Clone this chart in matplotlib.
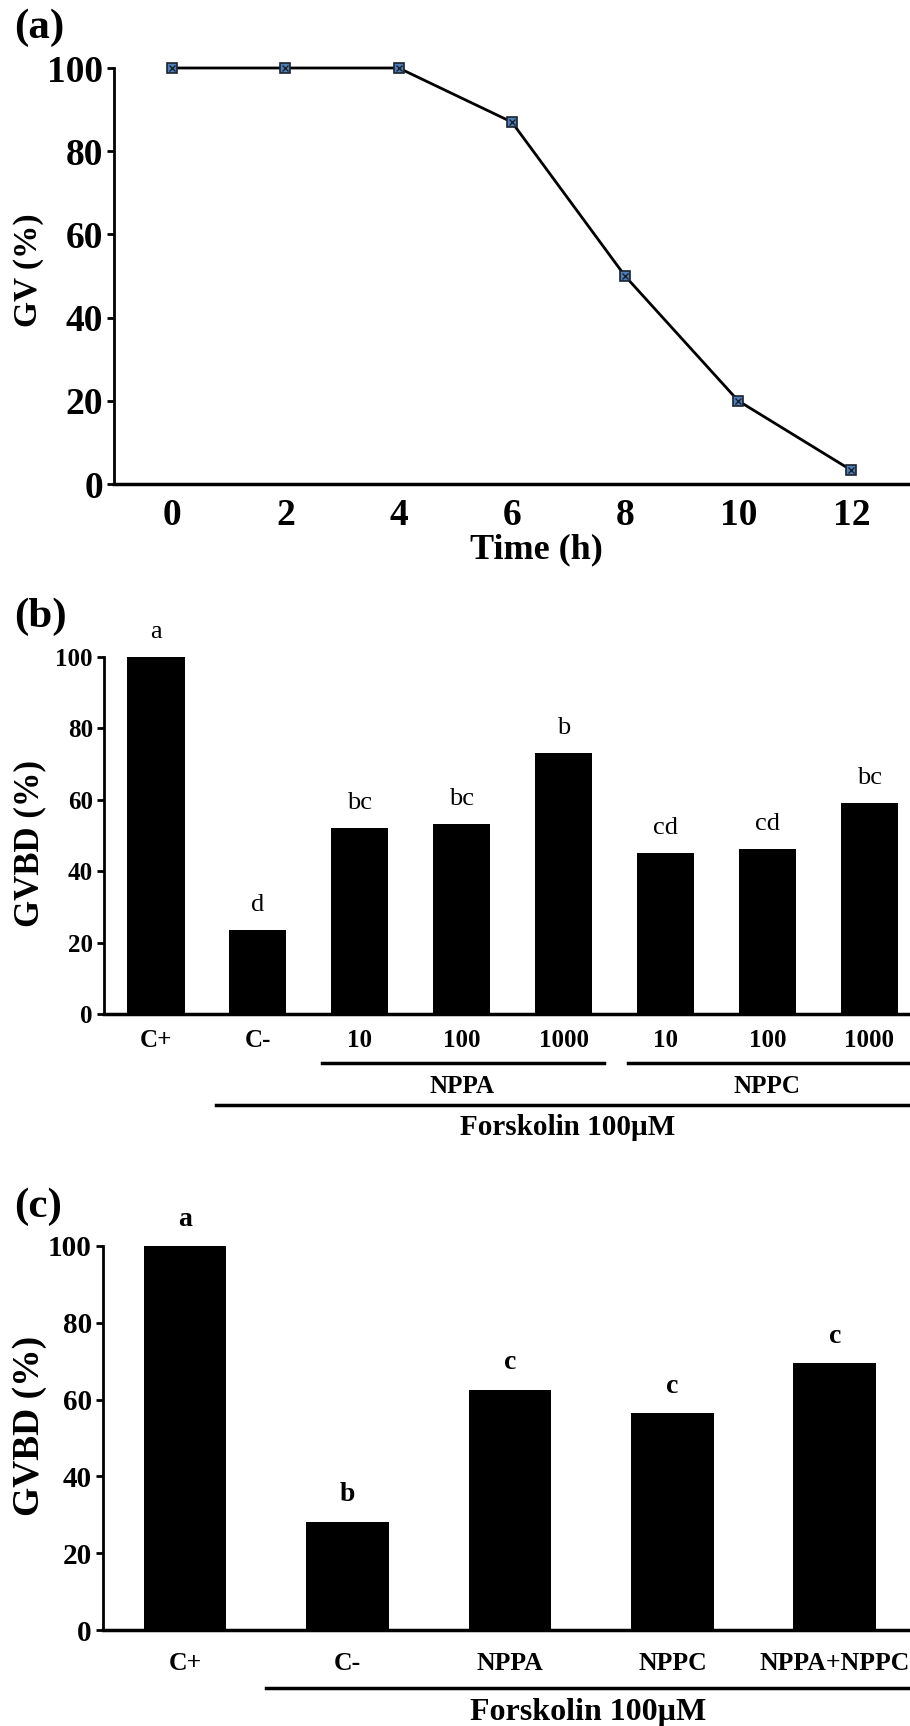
import matplotlib
matplotlib.use('Agg')
import matplotlib.pyplot as plt
import matplotlib.transforms as mtransforms

plt.rcParams['font.family'] = ['Liberation Serif', 'DejaVu Serif']
plt.rcParams['font.weight'] = 'bold'

# (a) GV over time
time_h = [0, 2, 4, 6, 8, 10, 12]
gv_pct = [100, 100, 100, 87, 50, 20, 3.3]

# (b) GVBD with NPPA / NPPC doses under forskolin
b_labels = ['C+', 'C-', '10', '100', '1000', '10', '100', '1000']
b_gvbd = [100, 23.6, 52.1, 53.3, 73.2, 45.0, 46.1, 59.1]
b_letters = ['a', 'd', 'bc', 'bc', 'b', 'cd', 'cd', 'bc']

# (c) GVBD with NPPA, NPPC and both
c_labels = ['C+', 'C-', 'NPPA', 'NPPC', 'NPPA+NPPC']
c_gvbd = [100, 28.2, 62.6, 56.4, 69.5]
c_letters = ['a', 'b', 'c', 'c', 'c']

W, H = 910, 1726
fig = plt.figure(figsize=(W / 100, H / 100), dpi=100)


def box(left, top, right, bottom):
    return [left / W, 1 - bottom / H, (right - left) / W, (bottom - top) / H]


def fx(x):
    return x / W


def fy(y):
    return 1 - y / H


def style(ax, ysize, pad_x):
    for s in ('top', 'right'):
        ax.spines[s].set_visible(False)
    ax.spines['left'].set_linewidth(2)
    ax.spines['bottom'].set_linewidth(2.5)
    ax.spines['left'].set_bounds(0, 100)
    ax.set_ylim(0, 100)
    ax.set_yticks(range(0, 101, 20))
    ax.tick_params(axis='y', length=5, width=2, pad=3, labelsize=ysize)
    ax.tick_params(axis='x', length=0, pad=pad_x)


# ---- (a)
ax1 = fig.add_axes(box(114, 68, 908, 484))
style(ax1, 27, 10)
ax1.set_xlim(-1.03, 13.0)
ax1.set_xticks(time_h)
ax1.tick_params(axis='x', labelsize=27)
ax1.plot(time_h, gv_pct, color='black', lw=2, zorder=2, clip_on=False)
ax1.plot(time_h, gv_pct, ls='none', marker='s', ms=7, mfc='#4f7fb8',
         mec='#1a2230', mew=1.2, zorder=3, clip_on=False)
ax1.plot(time_h, gv_pct, ls='none', marker='x', ms=4.5, mec='#1a2230',
         mew=1, zorder=4, clip_on=False)
fig.text(fx(14), fy(28), '(a)', fontsize=31, ha='left', va='center')
fig.text(fx(28), fy(270), 'GV (%)', fontsize=24, rotation=90,
         ha='center', va='center')
fig.text(fx(536), fy(550), 'Time (h)', fontsize=26, ha='center', va='center')

# ---- (b)
ax2 = fig.add_axes(box(104, 657, 908, 1014))
style(ax2, 18, 11)
ax2.set_xlim(-0.51, 7.38)
xb = range(len(b_gvbd))
ax2.bar(xb, b_gvbd, width=0.56, color='black')
ax2.set_xticks(list(xb))
ax2.set_xticklabels(b_labels, fontsize=18)
for i, (v, t) in enumerate(zip(b_gvbd, b_letters)):
    ax2.text(i, v + 7, t, ha='center', va='center', fontsize=19,
             fontweight='normal', clip_on=False)
tb = mtransforms.blended_transform_factory(ax2.transData, ax2.transAxes)
ax2.plot([2 - 0.37, 4 + 0.40], [-0.137, -0.137], color='black', lw=2.5,
         transform=tb, clip_on=False)
ax2.plot([5 - 0.37, 7.42], [-0.137, -0.137], color='black', lw=2.5,
         transform=tb, clip_on=False)
ax2.plot([1 - 0.41, 7.42], [-0.255, -0.255], color='black', lw=2.5,
         transform=tb, clip_on=False)
ax2.text(3, -0.203, 'NPPA', transform=tb, ha='center', va='center', fontsize=18)
ax2.text(6, -0.203, 'NPPC', transform=tb, ha='center', va='center', fontsize=18)
ax2.text(4.04, -0.317, 'Forskolin 100\u00b5M', transform=tb, ha='center',
         va='center', fontsize=21)
fig.text(fx(14), fy(617), '(b)', fontsize=31, ha='left', va='center')
fig.text(fx(30), fy(843), 'GVBD (%)', fontsize=25, rotation=90,
         ha='center', va='center')

# ---- (c)
ax3 = fig.add_axes(box(103, 1246, 908, 1630))
style(ax3, 21, 16)
ax3.set_xlim(-0.505, 4.45)
xc = range(len(c_gvbd))
ax3.bar(xc, c_gvbd, width=0.51, color='black')
ax3.set_xticks(list(xc))
ax3.set_xticklabels(c_labels, fontsize=18.5)
for i, (v, t) in enumerate(zip(c_gvbd, c_letters)):
    ax3.text(i, v + 7, t, ha='center', va='center', fontsize=20,
             clip_on=False)
tc = mtransforms.blended_transform_factory(ax3.transData, ax3.transAxes)
ax3.plot([0.5, 4.47], [-0.151, -0.151], color='black', lw=2.5,
         transform=tc, clip_on=False)
ax3.text(2.48, -0.216, 'Forskolin 100\u00b5M', transform=tc, ha='center',
         va='center', fontsize=23)
fig.text(fx(14), fy(1207), '(c)', fontsize=31, ha='left', va='center')
fig.text(fx(30), fy(1426), 'GVBD (%)', fontsize=27, rotation=90,
         ha='center', va='center')

fig.savefig('out.png', dpi=100)
